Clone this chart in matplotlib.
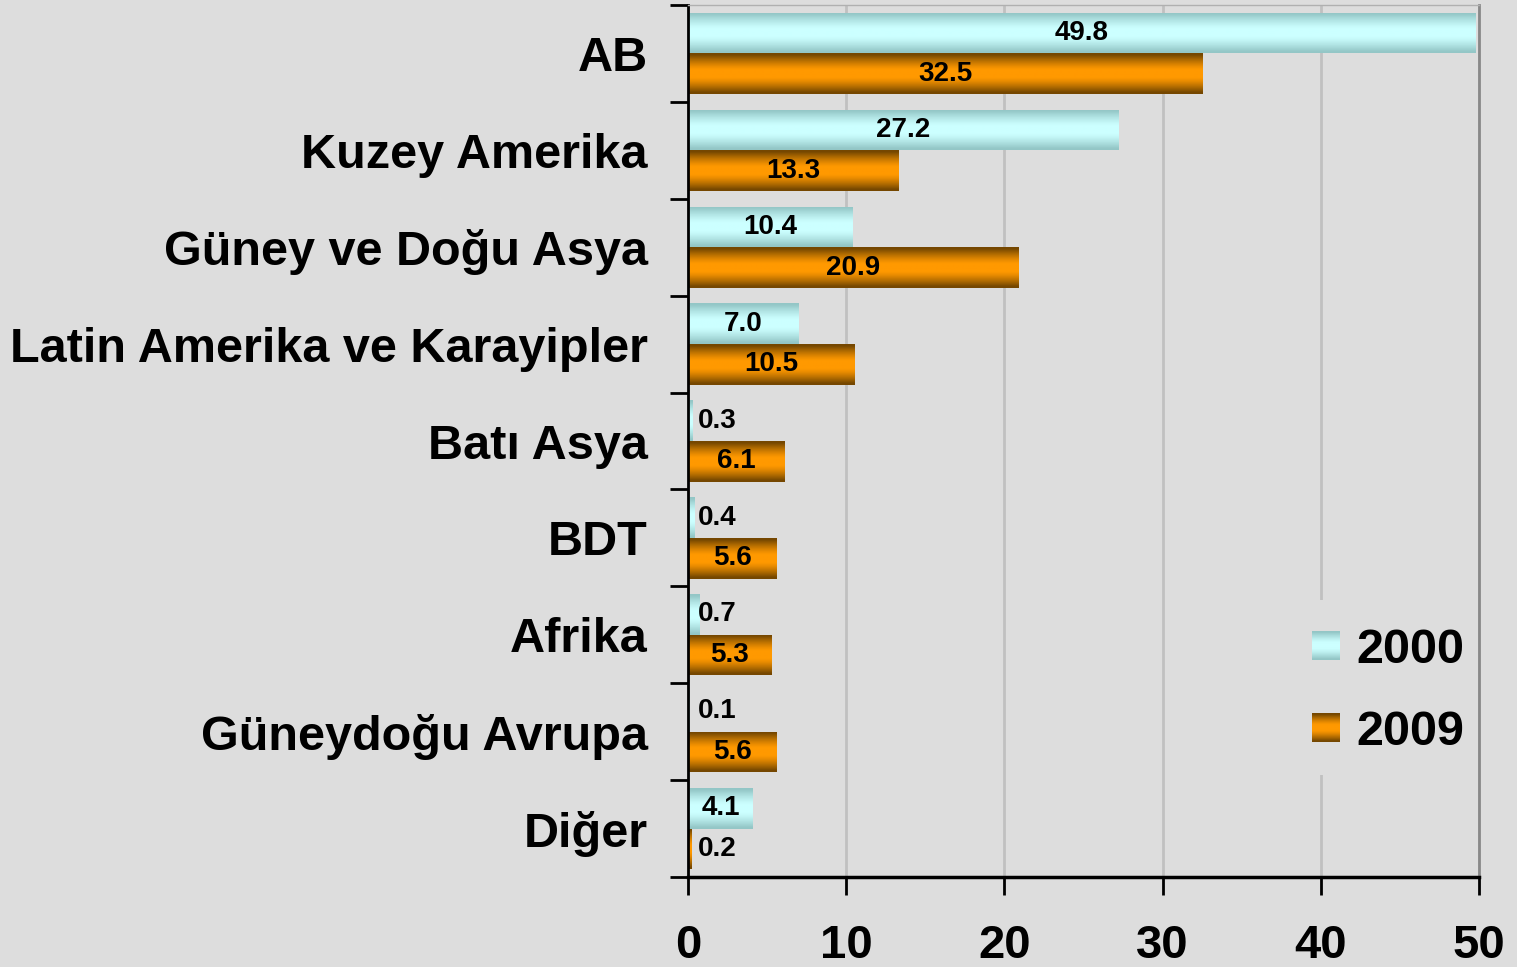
"""Horizontal grouped bar chart: 2000 vs 2009 shares by region."""
import matplotlib

matplotlib.use("Agg")

import matplotlib.pyplot as plt
import numpy as np

categories = [
    "AB",
    "Kuzey Amerika",
    "Güney ve Doğu Asya",
    "Latin Amerika ve Karayipler",
    "Batı Asya",
    "BDT",
    "Afrika",
    "Güneydoğu Avrupa",
    "Diğer",
]
values_2000 = [49.8, 27.2, 10.4, 7.0, 0.3, 0.4, 0.7, 0.1, 4.1]
values_2009 = [32.5, 13.3, 20.9, 10.5, 6.1, 5.6, 5.3, 5.6, 0.2]
series_labels = ["2000", "2009"]
x_ticks = [0, 10, 20, 30, 40, 50]

BG = "#dddddd"
CYAN_MID, CYAN_EDGE = np.array([0.80, 1.0, 1.0]), np.array([0.58, 0.78, 0.78])
ORANGE_MID, ORANGE_EDGE = np.array([1.0, 0.60, 0.0]), np.array([0.46, 0.28, 0.0])

plt.rcParams["font.family"] = ["Liberation Sans", "DejaVu Sans"]
plt.rcParams["font.weight"] = "bold"


def gradient(mid: np.ndarray, edge: np.ndarray, n: int = 64) -> np.ndarray:
    t = np.linspace(-1.0, 1.0, n)
    mix = np.clip(np.abs(t) * 1.35 - 0.25, 0.0, 1.0) ** 1.3
    rows = mid[None, :] * (1 - mix[:, None]) + edge[None, :] * mix[:, None]
    return rows[:, None, :]


def gradient_bars(ax, bars, grad) -> None:
    for bar in bars:
        x0, y0 = bar.get_x(), bar.get_y()
        im = ax.imshow(grad, extent=[x0, x0 + bar.get_width(), y0, y0 + bar.get_height()],
                       aspect="auto", zorder=2, interpolation="bilinear")
        im.set_clip_path(bar)


fig = plt.figure(figsize=(15.17, 9.67), dpi=100, facecolor=BG)
ax = fig.add_axes([0.4535, 0.0931, 0.5215, 0.9017], facecolor=BG)

y = np.arange(len(categories))
h = 0.42
grad_2000 = gradient(CYAN_MID, CYAN_EDGE)
grad_2009 = gradient(ORANGE_MID, ORANGE_EDGE)
bars_2000 = ax.barh(y - 0.21, values_2000, height=h, color="none", edgecolor="none")
bars_2009 = ax.barh(y + 0.21, values_2009, height=h, color="none", edgecolor="none")
gradient_bars(ax, bars_2000, grad_2000)
gradient_bars(ax, bars_2009, grad_2009)

for bars, vals in ((bars_2000, values_2000), (bars_2009, values_2009)):
    for bar, v in zip(bars, vals):
        yc = bar.get_y() + bar.get_height() / 2
        if v < 1:
            ax.text(0.65, yc, f"{v:.1f}", ha="left", va="center", fontsize=20, zorder=4)
        else:
            ax.text(v / 2, yc, f"{v:.1f}", ha="center", va="center", fontsize=20, zorder=4)

ax.set_xlim(0, 50)
ax.set_ylim(len(categories) - 0.5, -0.5)
ax.set_xticks(x_ticks)
ax.set_xticklabels([str(t) for t in x_ticks], fontsize=34)
ax.tick_params(axis="x", length=13, width=2, pad=20.5, direction="out")
ax.set_yticks(y)
ax.set_yticklabels(categories, fontsize=35)
ax.tick_params(axis="y", which="major", length=0, pad=29)
ax.set_yticks(np.arange(len(categories) + 1) - 0.5, minor=True)
ax.tick_params(axis="y", which="minor", length=13, width=2, direction="out")

ax.set_axisbelow(True)
ax.xaxis.grid(True, color="#c0c0c0", linewidth=2)
ax.spines["left"].set_linewidth(2)
ax.spines["bottom"].set_linewidth(2.5)
ax.spines["right"].set_color("#888888")
ax.spines["right"].set_linewidth(2)
ax.spines["top"].set_color("#b0b0b0")
ax.spines["top"].set_linewidth(1)

# legend drawn in a small inset so the swatches can carry the gradient
leg = ax.inset_axes([0.771, 0.117, 0.224, 0.201], facecolor=BG, zorder=5)
leg.set_xticks([])
leg.set_yticks([])
for s in leg.spines.values():
    s.set_visible(False)
for grad, (y0, y1), label in ((grad_2000, (0.657, 0.817), series_labels[0]),
                              (grad_2009, (0.189, 0.349), series_labels[1])):
    leg.imshow(grad, extent=[0.079, 0.237, y0, y1], aspect="auto", interpolation="bilinear")
    leg.text(0.328, (y0 + y1) / 2 - 0.025, label, ha="left", va="center", fontsize=35)
leg.set_xlim(0, 1)
leg.set_ylim(0, 1)

fig.savefig("out.png", dpi=100, facecolor=BG)
